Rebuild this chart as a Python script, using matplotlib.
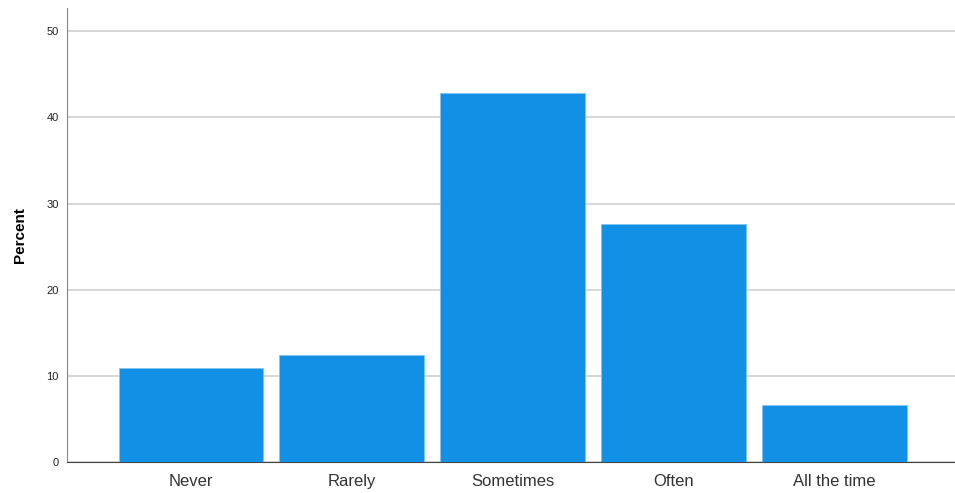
import matplotlib.pyplot as plt

categories = ['Never', 'Rarely', 'Sometimes', 'Often', 'All the time']
percent = [10.9, 12.4, 42.8, 27.6, 6.6]
yticks = [0, 10, 20, 30, 40, 50]

plt.rcParams['font.family'] = ['Liberation Sans', 'DejaVu Sans']

fig = plt.figure(figsize=(9.55, 4.93), dpi=100)
ax = fig.add_axes([0.0702, 0.0629, 0.9298, 0.9209])

x = range(len(categories))
ax.bar(x, percent, width=0.9, color='#1290e5', edgecolor='#7fc4f2', linewidth=0.6, zorder=3)

ax.set_xlim(-0.77, 4.75)
ax.set_ylim(0, 52.7)
ax.set_yticks(yticks)
ax.set_xticks(list(x))
ax.set_xticklabels(categories, fontsize=12, color='#333333')
ax.tick_params(axis='y', labelsize=8, length=0, pad=6, labelcolor='#222222')
ax.tick_params(axis='x', length=0, pad=9)
ax.yaxis.grid(True, color='#d0d0d0', linewidth=1.2, zorder=0)

for s in ['top', 'right']:
    ax.spines[s].set_visible(False)
ax.spines['left'].set_color('#888888')
ax.spines['bottom'].set_color('#444444')

ax.set_ylabel('Percent', fontsize=11, fontweight='bold', labelpad=14)

fig.savefig('out.png', dpi=100)
